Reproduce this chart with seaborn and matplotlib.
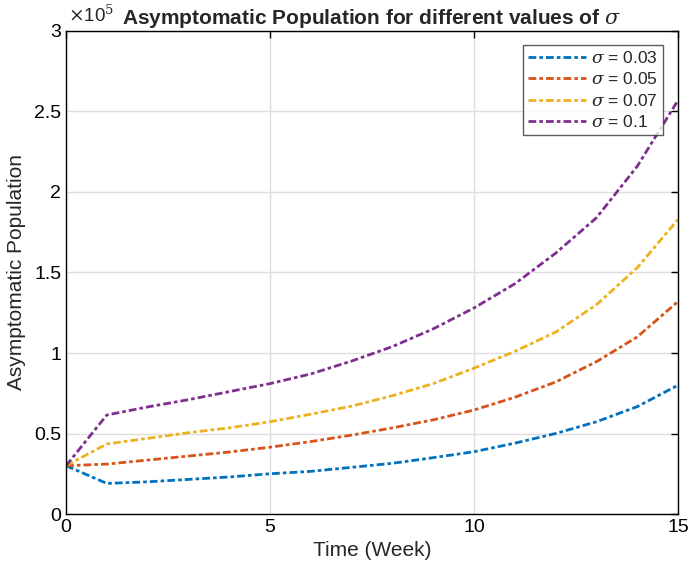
import numpy as np
import pandas as pd
import matplotlib
matplotlib.use('Agg')
import matplotlib.pyplot as plt
import seaborn as sns

weeks = list(range(16))
sigma_labels = [r'$\sigma$ = 0.03', r'$\sigma$ = 0.05', r'$\sigma$ = 0.07', r'$\sigma$ = 0.1']
# values in units of 1e5
pop_003 = [0.30, 0.19, 0.20, 0.215, 0.23, 0.25, 0.265, 0.29, 0.315, 0.35, 0.387, 0.44, 0.50, 0.573, 0.667, 0.80]
pop_005 = [0.30, 0.31, 0.335, 0.36, 0.385, 0.415, 0.45, 0.49, 0.535, 0.585, 0.646, 0.725, 0.82, 0.946, 1.10, 1.32]
pop_007 = [0.30, 0.435, 0.47, 0.505, 0.535, 0.573, 0.62, 0.67, 0.735, 0.81, 0.906, 1.01, 1.13, 1.30, 1.53, 1.83]
pop_01 = [0.30, 0.615, 0.665, 0.71, 0.76, 0.81, 0.87, 0.95, 1.04, 1.15, 1.28, 1.43, 1.62, 1.84, 2.16, 2.57]

colors = ['#0072BD', '#D95319', '#EDB120', '#7E2F8E']

frames = []
for lab, vals in zip(sigma_labels, [pop_003, pop_005, pop_007, pop_01]):
    frames.append(pd.DataFrame({'week': weeks, 'pop': np.array(vals) * 1e5, 'sigma': lab}))
df = pd.concat(frames, ignore_index=True)

sns.set_style('white')
plt.rcParams['font.family'] = ['Liberation Sans', 'DejaVu Sans']
plt.rcParams['mathtext.fontset'] = 'dejavuserif'

fig = plt.figure(figsize=(6.9, 5.78), dpi=100)
ax = fig.add_axes([0.0957, 0.1107, 0.887, 0.8357])

sns.lineplot(data=df, x='week', y='pop', hue='sigma', style='sigma',
             palette=colors, dashes=[(2.8, 1.1, 1.3, 1.1)] * 4, linewidth=2, ax=ax)

ax.set_xlim(0, 15)
ax.set_ylim(0, 3e5)
ax.set_xticks([0, 5, 10, 15])
ax.set_yticks(np.arange(0, 3.01e5, 0.5e5))
ax.set_yticklabels(['0', '0.5', '1', '1.5', '2', '2.5', '3'])
ax.tick_params(direction='in', length=5, labelsize=14, colors='black', width=1,
               top=True, right=True)
ax.grid(True, color='#dddddd', linewidth=1)
for s in ax.spines.values():
    s.set_color('black')
    s.set_linewidth(1)

ax.set_xlabel('Time (Week)', fontsize=15, labelpad=4)
ax.set_ylabel('Asymptomatic Population', fontsize=15, labelpad=6)
ax.set_title(r'Asymptomatic Population for different values of $\sigma$', fontsize=15,
             fontweight='bold', pad=5)
ax.text(0.003, 1.01, r'$\times$10$^5$', transform=ax.transAxes, fontsize=13.5, va='bottom', ha='left')

leg = ax.legend(loc='upper right', bbox_to_anchor=(0.975, 0.971), borderaxespad=0,
                fontsize=12.5, frameon=True, fancybox=False, edgecolor='#333333',
                handlelength=3.3, borderpad=0.3, labelspacing=0.3, handletextpad=0.3)
leg.get_frame().set_linewidth(1)

fig.savefig('out.png', dpi=100)
